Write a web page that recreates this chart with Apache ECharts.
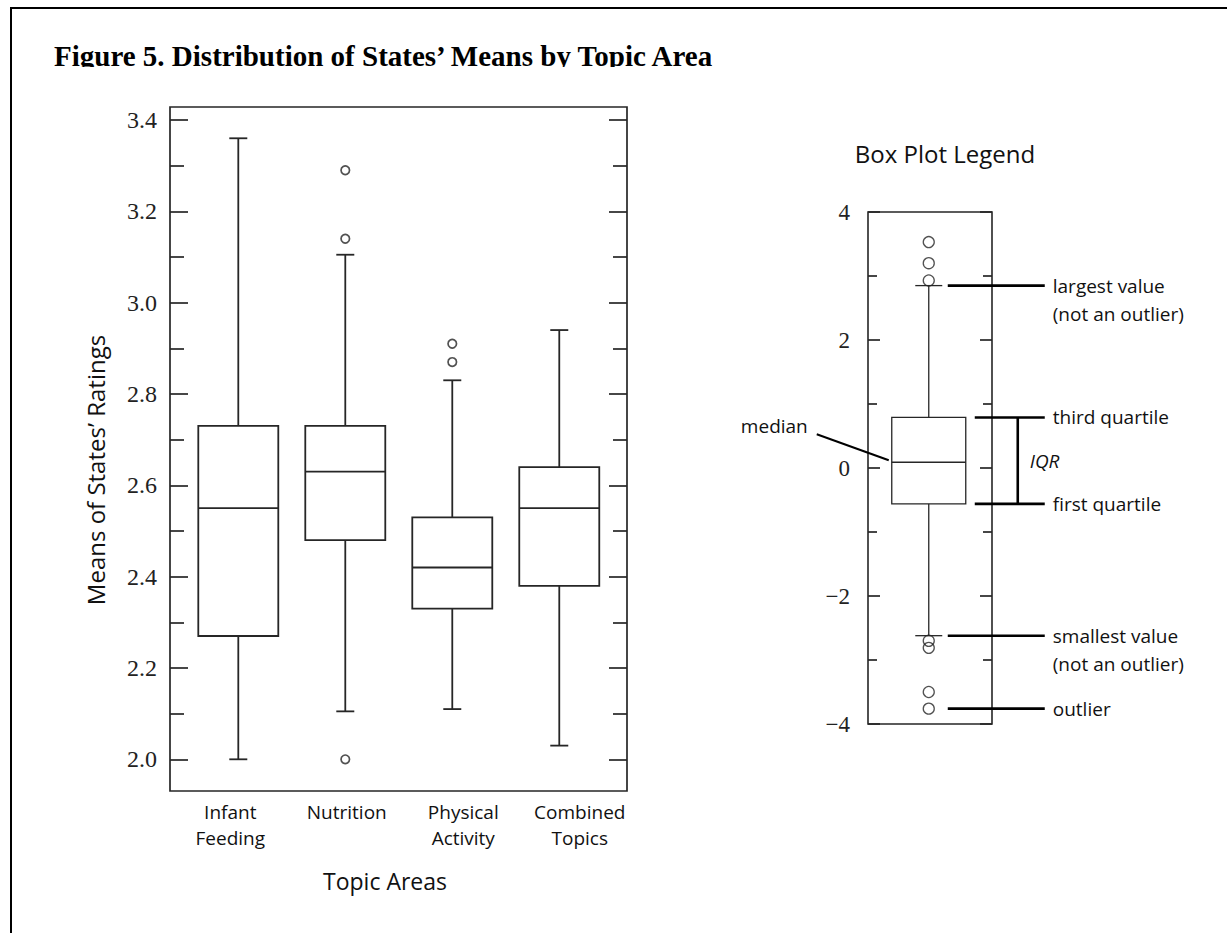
<!DOCTYPE html>
<html>
<head>
<meta charset="utf-8">
<script src="https://cdn.jsdelivr.net/npm/echarts@6/dist/echarts.min.js"></script>
<style>
  html, body { margin: 0; padding: 0; background: #fff; }
  #chart { position: absolute; left: 0; top: 0; width: 1227px; height: 933px; }
  #frame { position: absolute; left: 10px; top: 7px; right: 0; bottom: 0;
           border-left: 2px solid #000; border-top: 2px solid #000; pointer-events: none; }
</style>
</head>
<body>
<div id="chart"></div>
<div id="frame"></div>
<script>
// ---- Figure 5 data: states' mean ratings per topic area ----
const topics      = ['Infant\nFeeding', 'Nutrition', 'Physical\nActivity', 'Combined\nTopics'];
const whiskerLow  = [2.00, 2.105, 2.11, 2.03];
const quartile1   = [2.27, 2.48, 2.33, 2.38];
const medians     = [2.55, 2.63, 2.42, 2.55];
const quartile3   = [2.73, 2.73, 2.53, 2.64];
const whiskerHigh = [3.36, 3.105, 2.83, 2.94];
// outliers: topic index and value
const outlierTopic = [1, 1, 1, 2, 2];
const outlierValue = [3.29, 3.14, 2.00, 2.91, 2.87];

const yTicks      = [2.0, 2.2, 2.4, 2.6, 2.8, 3.0, 3.2, 3.4];
const yMinorTicks = [2.1, 2.3, 2.5, 2.7, 2.9, 3.1, 3.3];
const yRange      = [1.9306, 3.4285];

// ---- Box plot legend (example distribution) ----
const legendBox      = [-2.62, -0.56, 0.09, 0.79, 2.85]; // low whisker, Q1, median, Q3, high whisker
const legendOutliers = [3.53, 3.20, 2.93, -2.70, -2.81, -3.50, -3.76];
const legendNotes    = ['largest value\n(not an outlier)', 'third quartile', 'first quartile',
                        'smallest value\n(not an outlier)', 'outlier'];
const legendNoteValues  = [2.85, 0.79, -0.56, -2.62, -3.76];
const legendNoteTargets = ['whisker', 'box', 'box', 'whisker', 'point'];

const INK = '#262626';
const SANS = 'Open Sans';
const SERIF = 'Liberation Serif';
const LEGEND_X = 0.49;

function boxRenderer(boxW, capW, lw) {
  return function (params, api) {
    const x = api.value(0);
    const lo = api.value(1), q1 = api.value(2), md = api.value(3), q3 = api.value(4), hi = api.value(5);
    const cx = api.coord([x, md])[0];
    const y = v => api.coord([x, v])[1];
    const st = { stroke: INK, lineWidth: lw, fill: null };
    return {
      type: 'group',
      children: [
        { type: 'line', shape: { x1: cx, y1: y(q3), x2: cx, y2: y(hi) }, style: st },
        { type: 'line', shape: { x1: cx - capW / 2, y1: y(hi), x2: cx + capW / 2, y2: y(hi) }, style: st },
        { type: 'line', shape: { x1: cx, y1: y(q1), x2: cx, y2: y(lo) }, style: st },
        { type: 'line', shape: { x1: cx - capW / 2, y1: y(lo), x2: cx + capW / 2, y2: y(lo) }, style: st },
        { type: 'rect', shape: { x: cx - boxW / 2, y: y(q3), width: boxW, height: y(q1) - y(q3) },
          style: { stroke: INK, lineWidth: lw, fill: '#fff' } },
        { type: 'line', shape: { x1: cx - boxW / 2, y1: y(md), x2: cx + boxW / 2, y2: y(md) }, style: st }
      ]
    };
  };
}

const noteFont = { fontFamily: SANS, fontSize: 19, fill: '#111' };

function noteRenderer(params, api) {
  const i = api.value(0);
  const p = api.coord([LEGEND_X, api.value(1)]);
  const cx = p[0], yy = p[1];
  const start = legendNoteTargets[i] === 'box' ? cx + 46 : cx + 19;
  return {
    type: 'group',
    children: [
      { type: 'line', shape: { x1: start, y1: yy, x2: cx + 116, y2: yy },
        style: { stroke: '#000', lineWidth: 2.6 } },
      { type: 'text', x: cx + 124, y: yy - 14,
        style: Object.assign({ text: legendNotes[i], align: 'left', verticalAlign: 'top', lineHeight: 28 }, noteFont) }
    ]
  };
}

function legendExtrasRenderer(params, api) {
  const q1 = api.value(1), md = api.value(2), q3 = api.value(3);
  const pm = api.coord([LEGEND_X, md]);
  const y1 = api.coord([LEGEND_X, q1])[1];
  const y3 = api.coord([LEGEND_X, q3])[1];
  const cx = pm[0];
  const bx = cx + 89;
  return {
    type: 'group',
    children: [
      // IQR bracket
      { type: 'line', shape: { x1: bx, y1: y3, x2: bx, y2: y1 }, style: { stroke: '#000', lineWidth: 2.6 } },
      { type: 'text', x: bx + 12, y: (y1 + y3) / 2,
        style: { text: 'IQR', fontFamily: SANS, fontStyle: 'italic', fontSize: 19, fill: '#111',
                 align: 'left', verticalAlign: 'middle' } },
      // median leader
      { type: 'line', shape: { x1: cx - 112, y1: pm[1] - 28, x2: cx - 40, y2: pm[1] - 2 },
        style: { stroke: '#000', lineWidth: 2 } },
      { type: 'text', x: cx - 121, y: pm[1] - 36,
        style: { text: 'median', fontFamily: SANS, fontSize: 19, fill: '#111', align: 'right', verticalAlign: 'middle' } }
    ]
  };
}

const majorTickStyle = { color: INK, width: 1.7 };

const chart = echarts.init(document.getElementById('chart'), null, { renderer: 'svg' });
chart.setOption({
  animation: false,
  backgroundColor: '#fff',
  title: [
    { text: 'Figure 5. Distribution of States\u2019 Means by Topic Area', left: 49, top: 36,
      textStyle: { fontFamily: SERIF, fontWeight: 'bold', fontSize: 29, color: '#000' } },
    { text: 'Box Plot Legend', left: 940, top: 136, textAlign: 'center',
      textStyle: { fontFamily: SANS, fontWeight: 'normal', fontSize: 24, color: '#111' } }
  ],
  graphic: [
    // the title's descenders are cut off along its baseline
    { type: 'rect', left: 45, top: 67, z: 100, shape: { width: 720, height: 12 }, style: { fill: '#fff' } },
    { type: 'text', x: 95, y: 470, rotation: Math.PI / 2, z: 10,
      style: { text: 'Means of States\u2019 Ratings', fontFamily: SANS, fontSize: 24, fill: '#111',
               align: 'center', verticalAlign: 'middle' } },
    { type: 'text', x: 385, y: 881, z: 10,
      style: { text: 'Topic Areas', fontFamily: SANS, fontSize: 23, fill: '#111',
               align: 'center', verticalAlign: 'middle' } }
  ],
  grid: [
    { left: 170, right: 600, top: 107, bottom: 142, show: true, borderColor: INK, borderWidth: 1.7,
      backgroundColor: 'transparent', outerBoundsMode: 'none' },
    { left: 172, right: 589, top: 107, bottom: 142, show: false, outerBoundsMode: 'none' },
    { left: 868, right: 235, top: 212, bottom: 209, show: true, borderColor: INK, borderWidth: 1.6,
      backgroundColor: 'transparent', outerBoundsMode: 'none' }
  ],
  xAxis: [
    { gridIndex: 0, type: 'value', min: 0.3617, max: 4.633, show: false },
    { gridIndex: 1, type: 'category', data: topics, position: 'bottom',
      axisLine: { show: false }, axisTick: { show: false }, splitLine: { show: false },
      axisLabel: { interval: 0, margin: 8, fontFamily: SANS, fontSize: 19, lineHeight: 26, color: '#111' } },
    { gridIndex: 2, type: 'value', min: 0, max: 1, show: false }
  ],
  yAxis: [
    { gridIndex: 0, type: 'value', min: yRange[0], max: yRange[1], position: 'left',
      axisLine: { show: false }, splitLine: { show: false },
      axisTick: { show: true, inside: true, length: 18, customValues: yTicks, lineStyle: majorTickStyle },
      axisLabel: { customValues: yTicks, formatter: v => v.toFixed(1), margin: 13,
                   fontFamily: SERIF, fontSize: 24, color: '#222' } },
    { gridIndex: 0, type: 'value', min: yRange[0], max: yRange[1], position: 'left',
      axisLine: { show: false }, splitLine: { show: false }, axisLabel: { show: false },
      axisTick: { show: true, inside: true, length: 14, customValues: yMinorTicks, lineStyle: majorTickStyle } },
    { gridIndex: 0, type: 'value', min: yRange[0], max: yRange[1], position: 'right',
      axisLine: { show: false }, splitLine: { show: false }, axisLabel: { show: false },
      axisTick: { show: true, inside: true, length: 18, customValues: yTicks, lineStyle: majorTickStyle } },
    { gridIndex: 0, type: 'value', min: yRange[0], max: yRange[1], position: 'right',
      axisLine: { show: false }, splitLine: { show: false }, axisLabel: { show: false },
      axisTick: { show: true, inside: true, length: 14, customValues: yMinorTicks, lineStyle: majorTickStyle } },
    { gridIndex: 1, type: 'value', show: false },
    { gridIndex: 2, type: 'value', min: -4, max: 4, interval: 2, position: 'left',
      axisLine: { show: false }, splitLine: { show: false },
      axisTick: { show: true, inside: true, length: 12, lineStyle: majorTickStyle },
      minorTick: { show: true, splitNumber: 2, length: 9, lineStyle: majorTickStyle },
      axisLabel: { margin: 18, fontFamily: SERIF, fontSize: 23, color: '#222',
                   formatter: v => (v < 0 ? '\u2212' + Math.abs(v) : String(v)) } },
    { gridIndex: 2, type: 'value', min: -4, max: 4, interval: 2, position: 'right',
      axisLine: { show: false }, splitLine: { show: false }, axisLabel: { show: false },
      axisTick: { show: true, inside: true, length: 12, lineStyle: majorTickStyle },
      minorTick: { show: true, splitNumber: 2, length: 9, lineStyle: majorTickStyle } }
  ],
  series: [
    {
      name: 'Topic areas', type: 'custom', xAxisIndex: 0, yAxisIndex: 0,
      renderItem: boxRenderer(80, 18, 1.8),
      encode: { x: 0, y: [1, 2, 3, 4, 5] },
      data: topics.map((t, i) => [i + 1, whiskerLow[i], quartile1[i], medians[i], quartile3[i], whiskerHigh[i]])
    },
    {
      name: 'Outliers', type: 'scatter', xAxisIndex: 0, yAxisIndex: 0, z: 5,
      symbol: 'circle', symbolSize: 8.5,
      itemStyle: { color: '#fff', borderColor: INK, borderWidth: 1.7 },
      data: outlierValue.map((v, i) => [outlierTopic[i] + 1, v])
    },
    {
      name: 'Legend box', type: 'custom', xAxisIndex: 2, yAxisIndex: 5,
      renderItem: boxRenderer(74, 27, 1.3),
      encode: { x: 0, y: [1, 2, 3, 4, 5] },
      data: [[LEGEND_X].concat(legendBox)]
    },
    {
      name: 'Legend outliers', type: 'scatter', xAxisIndex: 2, yAxisIndex: 5, z: 5,
      symbol: 'circle', symbolSize: 11,
      itemStyle: { color: 'transparent', borderColor: INK, borderWidth: 1.3 },
      data: legendOutliers.map(v => [LEGEND_X, v])
    },
    {
      name: 'Legend notes', type: 'custom', xAxisIndex: 2, yAxisIndex: 5, clip: false, z: 6,
      renderItem: noteRenderer,
      encode: { y: 1 },
      data: legendNoteValues.map((v, i) => [i, v])
    },
    {
      name: 'Legend extras', type: 'custom', xAxisIndex: 2, yAxisIndex: 5, clip: false, z: 6,
      renderItem: legendExtrasRenderer,
      encode: { y: [0, 1, 2, 3, 4] },
      data: [legendBox]
    }
  ]
});
</script>
</body>
</html>
